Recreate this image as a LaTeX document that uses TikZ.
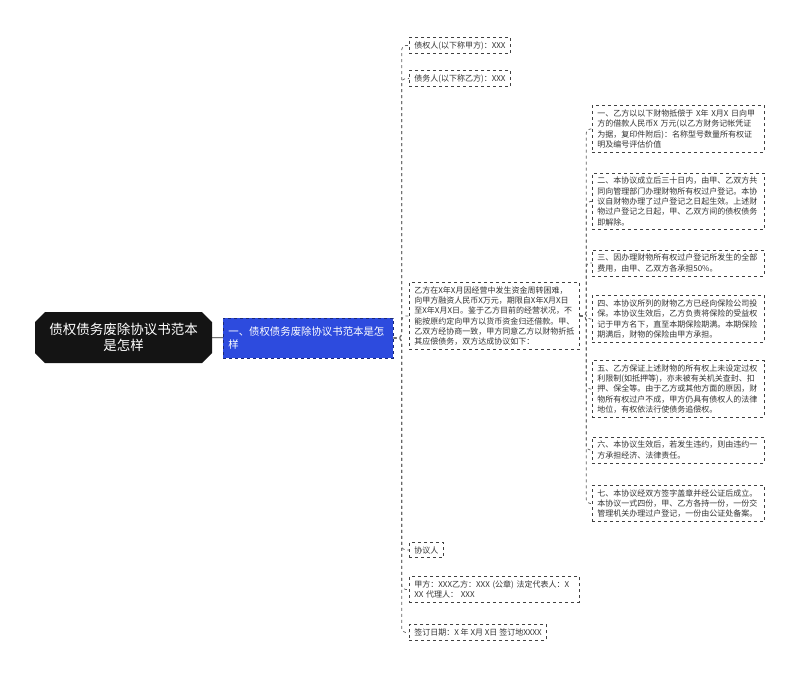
\documentclass[tikz,border=0pt]{standalone}
\usepackage{fontspec}
\setmainfont{Noto Sans CJK SC}
\usetikzlibrary{shapes.misc}
\definecolor{topicblue}{RGB}{45,75,222}
\definecolor{linkgray}{RGB}{95,95,95}

\begin{document}
\begin{tikzpicture}
  [x=1pt,y=-1pt,
    every node/.style={font=\fontsize{8}{10.3}\selectfont,text=black!80,inner xsep=5pt,inner ysep=4pt},
    root/.style={chamfered rectangle,chamfered rectangle xsep=4pt,chamfered rectangle ysep=6pt,
      fill=black!92,text=white,align=center,minimum width=177pt,minimum height=51pt,
      font=\fontsize{13.5}{16}\selectfont},
    topic/.style={fill=topicblue,draw=topicblue!55!black,dashed,line width=0.7pt,text=white,
      anchor=west,align=left,text width=160pt,minimum height=40pt,font=\fontsize{10.4}{13.5}\selectfont},
    leaf/.style={draw=black!75,dashed,line width=0.7pt,anchor=west,align=left},
    wideleaf/.style={leaf,text width=160pt},
    sideleaf/.style={leaf,text width=162pt},
    link/.style={draw=linkgray,dashed,line width=0.7pt,rounded corners=4pt},
]
  \useasboundingbox (0,0) rectangle (797,675);

  \node[root] (root) at (123.5,337.5) {债权债务废除协议书范本\\是怎样};
  \node[topic] (topic) at (223,338) {一、债权债务废除协议书范本是怎\\样};

  % second level
  \node[leaf] (a1) at (409,45.5) {债权人(以下称甲方)：XXX};
  \node[leaf] (a2) at (409,78.5) {债务人(以下称乙方)：XXX};
  \node[wideleaf] (a3) at (409,316) {乙方在X年X月因经营中发生资金周转困难，\\向甲方融资人民币X万元，期限自X年X月X日\\至X年X月X日。鉴于乙方目前的经营状况，不\\能按原约定向甲方以货币资金归还借款。甲、\\乙双方经协商一致，甲方同意乙方以财物折抵\\其应偿债务，双方达成协议如下：};
  \node[leaf] (a4) at (409,550) {协议人};
  \node[wideleaf] (a5) at (409,589.5) {甲方：XXX乙方：XXX (公章) 法定代表人：X\\XX 代理人： XXX};
  \node[leaf] (a6) at (409,632.5) {签订日期：X 年 X月 X日 签订地XXXX};

  % third level
  \node[sideleaf] (b1) at (592,129) {一、乙方以以下财物抵偿于 X年 X月X 日向甲\\方的借款人民币X 万元(以乙方财务记帐凭证\\为据，复印件附后)：名称型号数量所有权证\\明及编号评估价值};
  \node[sideleaf] (b2) at (592,201.5) {二、本协议成立后三十日内，由甲、乙双方共\\同向管理部门办理财物所有权过户登记。本协\\议自财物办理了过户登记之日起生效。上述财\\物过户登记之日起，甲、乙双方间的债权债务\\即解除。};
  \node[sideleaf] (b3) at (592,263) {三、因办理财物所有权过户登记所发生的全部\\费用，由甲、乙双方各承担50\%。};
  \node[sideleaf] (b4) at (592,319) {四、本协议所列的财物乙方已经向保险公司投\\保。本协议生效后，乙方负责将保险的受益权\\记于甲方名下，直至本期保险期满。本期保险\\期满后，财物的保险由甲方承担。};
  \node[sideleaf] (b5) at (592,389) {五、乙方保证上述财物的所有权上未设定过权\\利限制(如抵押等)，亦未被有关机关查封、扣\\押、保全等。由于乙方或其他方面的原因，财\\物所有权过户不成，甲方仍具有债权人的法律\\地位，有权依法行使债务追偿权。};
  \node[sideleaf] (b6) at (592,450) {六、本协议生效后，若发生违约，则由违约一\\方承担经济、法律责任。};
  \node[sideleaf] (b7) at (592,503.5) {七、本协议经双方签字盖章并经公证后成立。\\本协议一式四份，甲、乙方各持一份，一份交\\管理机关办理过户登记，一份由公证处备案。};

  \draw[black!85,line width=0.8pt] (root) -- (topic);
  \foreach \n in {a1,a2,a3,a4,a5,a6}
    \draw[link] (topic.east) -- ++(8,0) |- (\n.west);
  \foreach \n in {b1,b2,b3,b4,b5,b6,b7}
    \draw[link] (a3.east) -- ++(6.5,0) |- (\n.west);
\end{tikzpicture}
\end{document}
